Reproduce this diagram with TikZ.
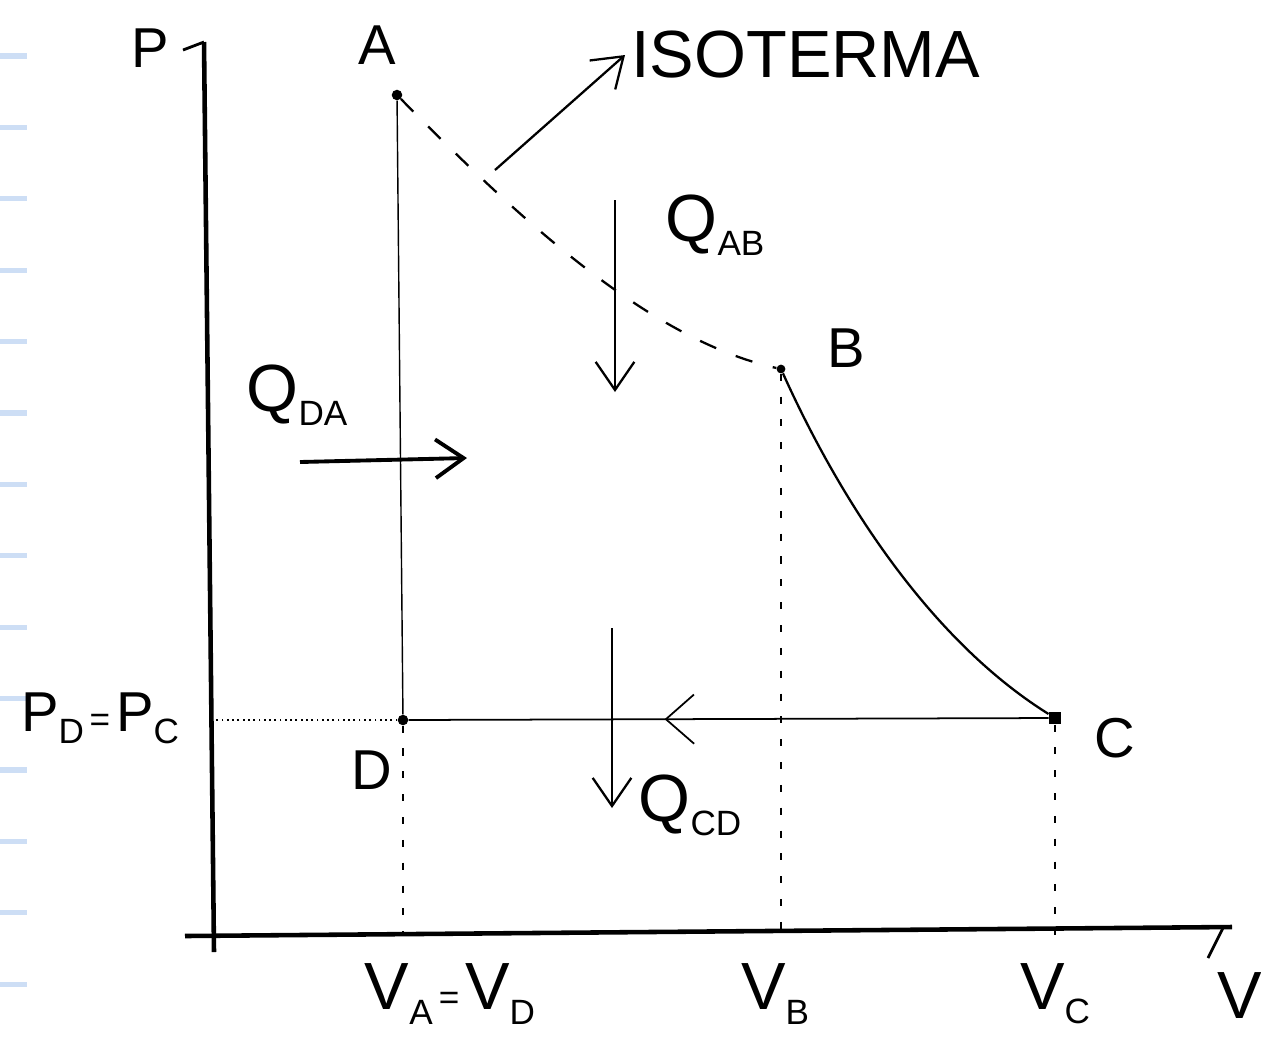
\documentclass[tikz,border=0pt]{standalone}
\usepackage{fontspec}
\setmainfont{Liberation Sans}
\usetikzlibrary{arrows.meta,decorations.markings}
\definecolor{ruleblue}{RGB}{205,222,245}
\newcommand{\subs}[1]{\raisebox{-0.4ex}{\fontsize{20}{20}\selectfont #1}}
\newcommand{\eqs}{{\fontsize{20}{20}\selectfont\,=\,}}

\begin{document}
\begin{tikzpicture}[x=0.02cm,y=-0.02cm,
  pt/.style={circle,fill,inner sep=0pt,minimum size=6pt},
  lbl/.style={font=\fontsize{32}{34}\selectfont},
  qlbl/.style={font=\fontsize{38}{40}\selectfont},
  ax/.style={line width=2.6pt},
  curve/.style={line width=1.3pt},
  guide/.style={line width=1pt,dash pattern=on 4pt off 9pt},
  heat/.style={line width=1.3pt,-{Straight Barb[length=16pt,width=22pt]}},
  rule/.style={line width=3pt,ruleblue}
]
\useasboundingbox (0,0) rectangle (1261,1036);
% notebook ruling
\foreach \k in {0,...,13}
  \draw[rule] (0,56+71.4*\k) -- (27,56+71.4*\k);

% axes
\coordinate (O) at (213,935);
\coordinate (Ptop) at (204,42);
\coordinate (Vend) at (1232,927);
\draw[ax] (214,952) -- (Ptop);
\draw[ax] (185,936) -- (Vend);
\draw[line width=1.6pt] (Ptop) -- (183,50);
\draw[line width=1.6pt] (1224,926) -- (1208,958);
\node[lbl] (P) at (150,48) {P};
\node[qlbl] (V) at (1240,996) {V};

% states
\node[pt] (A) at (397,95) {};
\node[pt,minimum size=5pt] (B) at (781,369) {};
\node[pt,rectangle,minimum size=7pt] (C) at (1055,718) {};
\node[pt] (D) at (403,720) {};
\node[lbl] (lA) at (377,45) {A};
\node[lbl] (lB) at (846,348) {B};
\node[lbl] (lC) at (1115,738) {C};
\node[lbl] (lD) at (372,770) {D};

% cycle
\draw[line width=0.8pt] (A) -- (D);
\draw[curve,dash pattern=on 10pt off 12pt] (A) .. controls (520,220) and (650,340) .. (B);
\draw[curve] (B) .. controls (840,500) and (930,640) .. (C);
\draw[line width=1pt,postaction={decorate},
  decoration={markings,mark=at position 0.6 with {\arrow{Straight Barb[length=16pt,width=28pt]}}}]
  (C) -- (D);

% guides
\draw[guide] (D) -- (D |- O);
\draw[guide] (B) -- (B |- O);
\draw[guide] (C) -- (C |- O);
\draw[line width=1pt,dotted] (D) -- (D -| O);
\node[font=\fontsize{32}{34}\selectfont] (pdc) at (100,718) {P\subs{D}\eqs P\subs{C}};
\node[qlbl] (vad) at (450,994) {V\subs{A}\eqs V\subs{D}};
\node[qlbl] (vb) at (775,994) {V\subs{B}};
\node[qlbl] (vc) at (1055,994) {V\subs{C}};

% isotherm label
\node[qlbl,anchor=west] (iso) at (625,55) {ISOTERMA};
\coordinate (isofoot) at (495,170);
\draw[heat] (isofoot) -- (iso.west);

% heat flows
\coordinate (qab0) at (615,200);
\coordinate (qab1) at (615,392);
\draw[heat] (qab0) -- (qab1);
\node[qlbl] (qab) at (715,225) {Q\subs{AB}};
\coordinate (qda0) at (300,462);
\coordinate (qda1) at (467,458);
\draw[heat,line width=2.2pt] (qda0) -- (qda1);
\node[qlbl] (qda) at (297,395) {Q\subs{DA}};
\coordinate (qcd0) at (612,628);
\coordinate (qcd1) at (612,808);
\draw[heat] (qcd0) -- (qcd1);
\node[qlbl] (qcd) at (690,805) {Q\subs{CD}};
\end{tikzpicture}
\end{document}
